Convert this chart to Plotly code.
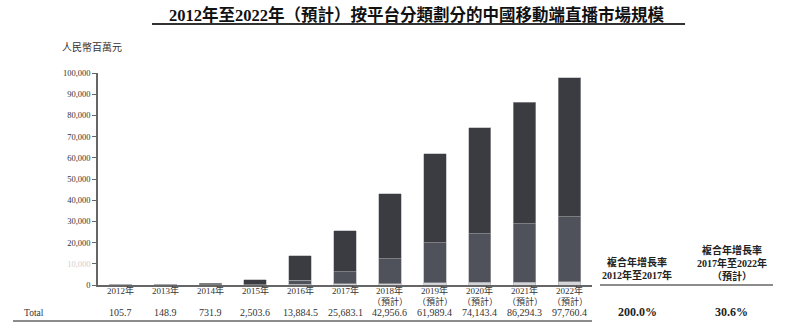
import plotly.graph_objects as go

years = ["2012年", "2013年", "2014年", "2015年", "2016年", "2017年",
         "2018年", "2019年", "2020年", "2021年", "2022年"]
forecast = [False, False, False, False, False, False, True, True, True, True, True]
forecast_label = "（預計）"
totals = [105.7, 148.9, 731.9, 2503.6, 13884.5, 25683.1,
          42956.6, 61989.4, 74143.4, 86294.3, 97760.4]
total_labels = ["105.7", "148.9", "731.9", "2,503.6", "13,884.5", "25,683.1",
                "42,956.6", "61,989.4", "74,143.4", "86,294.3", "97,760.4"]
seg_light = [2, 3, 10, 50, 300, 500, 700, 1000, 1200, 1400, 1500]
seg_mid = [5, 8, 30, 150, 1900, 5800, 11700, 18900, 23000, 27400, 30700]
seg_dark = [t - a - b for t, a, b in zip(totals, seg_light, seg_mid)]

y_ticks = [0, 10000, 20000, 30000, 40000, 50000, 60000, 70000, 80000, 90000, 100000]
y_tick_text = ["0", "<span style='color:#cfcfcf'>10,000</span>", "20,000", "30,000",
               "40,000", "50,000", "60,000", "70,000", "80,000", "90,000", "100,000"]

cagr_headers = ["<b>複合年增長率<br>2012年至2017年</b>",
                "<b>複合年增長率<br>2017年至2022年<br>（預計）</b>"]
cagr_values = ["200.0%", "30.6%"]

FONT = "Liberation Serif, Noto Sans CJK TC, serif"

fig = go.Figure()
for name, vals, col in [("light", seg_light, "#d4d5d8"),
                        ("mid", seg_mid, "#4f525a"),
                        ("dark", seg_dark, "#3b3c41")]:
    fig.add_trace(go.Bar(x=years, y=vals, name=name, width=0.5,
                         marker=dict(color=col, line=dict(color="#a9aaae", width=0.6)),
                         showlegend=False, hoverinfo="skip"))

fig.update_layout(
    barmode="stack",
    width=800, height=323,
    margin=dict(l=98, r=208, t=73, b=38),
    paper_bgcolor="white", plot_bgcolor="white",
    font=dict(family=FONT, color="#222", size=9),
    xaxis=dict(showticklabels=False,
               showline=True, linecolor="#666", linewidth=1.5,
               ticks="", showgrid=False, range=[-0.5, 10.5]),
    yaxis=dict(range=[0, 100000], tickvals=y_ticks, ticktext=y_tick_text,
               showline=True, linecolor="#666", linewidth=1.5,
               ticks="outside", ticklen=4, tickcolor="#666", tickwidth=1,
               showgrid=False, zeroline=False,
               tickfont=dict(size=8.5, family=FONT, color="#333")),
)

ann = []
# title
ann.append(dict(text="<b>2012年至2022年（預計）按平台分類劃分的中國移動端直播市場規模</b>",
                x=0.6457, y=1.2736, xref="paper", yref="paper", showarrow=False,
                xanchor="center", yanchor="middle",
                font=dict(size=16.5, family=FONT, color="#111")))
ann.append(dict(text="人民幣百萬元", x=-0.0769, y=1.1226, xref="paper", yref="paper",
                showarrow=False, xanchor="left", yanchor="middle",
                font=dict(size=10, family=FONT, color="#333")))
for yr, fc in zip(years, forecast):
    ann.append(dict(text=yr, x=yr, y=-0.0283, xref="x", yref="paper", showarrow=False,
                    xanchor="center", yanchor="middle",
                    font=dict(size=9, family=FONT, color="#333")))
    if fc:
        ann.append(dict(text=forecast_label, x=yr, y=-0.0755, xref="x", yref="paper",
                        showarrow=False, xanchor="center", yanchor="middle",
                        font=dict(size=9, family=FONT, color="#333")))
ann.append(dict(text="Total", x=-0.1538, y=-0.132, xref="paper", yref="paper",
                showarrow=False, xanchor="left", yanchor="middle",
                font=dict(size=9.5, family=FONT, color="#333")))
for yr, lab in zip(years, total_labels):
    ann.append(dict(text=lab, x=yr, y=-0.132, xref="x", yref="paper", showarrow=False,
                    xanchor="center", yanchor="middle",
                    font=dict(size=10, family=FONT, color="#333")))
for hx, hy, h in zip([1.0911, 1.2834], [0.0755, 0.106], cagr_headers):
    ann.append(dict(text=h, x=hx, y=hy, xref="paper", yref="paper", showarrow=False,
                    xanchor="center", yanchor="middle",
                    font=dict(size=10, family=FONT, color="#222")))
for hx, v in zip([1.0911, 1.2834], cagr_values):
    ann.append(dict(text="<b>" + v + "</b>", x=hx, y=-0.127, xref="paper", yref="paper",
                    showarrow=False, xanchor="center", yanchor="middle",
                    font=dict(size=12, family=FONT, color="#222")))
fig.update_layout(annotations=ann)

fig.add_shape(type="line", xref="paper", yref="paper", x0=0.1093, x1=1.1883,
              y0=1.2311, y1=1.2311, line=dict(color="#333", width=2))
fig.add_shape(type="line", xref="paper", yref="paper", x0=-0.1721, x1=1.0,
              y0=-0.1698, y1=-0.1698, line=dict(color="#666", width=1.5))
fig.add_shape(type="line", xref="paper", yref="paper", x0=1.0162, x1=1.3664,
              y0=0, y1=0, line=dict(color="#666", width=1.5))

fig.write_html("out.html")
